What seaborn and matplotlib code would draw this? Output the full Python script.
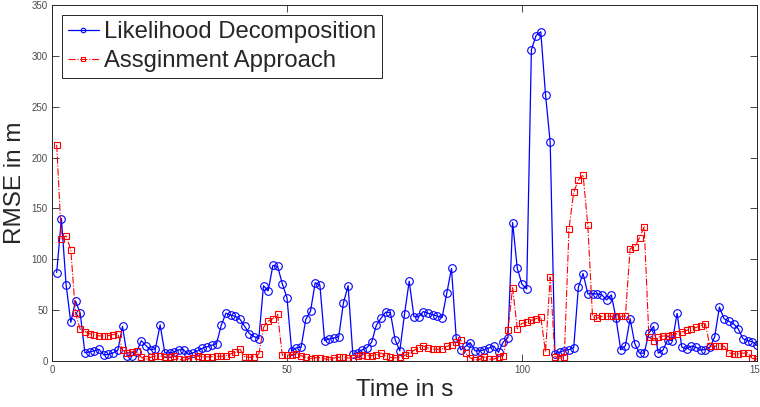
import numpy as np
import pandas as pd
import matplotlib
matplotlib.use("Agg")
import matplotlib.pyplot as plt
import seaborn as sns

time_s = list(range(1, 151))

likelihood = [
    87, 140, 75, 38, 59, 47, 8, 9, 10, 11.5,
    6, 6.5, 8, 10.5, 34, 5, 5, 9, 20, 15,
    11, 12, 35.5, 8, 8, 9, 11, 11, 6.5, 8,
    10, 12.5, 14, 15.4, 17, 35, 47, 45, 44, 41,
    34, 27, 24, 22, 74, 69, 94, 93, 76, 62,
    9.5, 13, 13.5, 41, 49, 77, 74.5, 20, 21.7, 22.7,
    23.6, 57, 74, 6.6, 8.2, 11, 13, 18.4, 35, 42,
    48, 47.6, 21, 10, 46, 78.5, 43.7, 43.3, 48.6, 47,
    45.6, 44.3, 42.7, 67, 91, 22.7, 11, 14.4, 18, 10,
    10, 11, 12.8, 14.7, 8.5, 18.6, 22.8, 136, 91, 75.4,
    70.8, 306, 320, 323.6, 262, 215, 6.7, 8.7, 10.3, 11.3,
    13, 72.7, 86, 66, 66, 66, 65, 60, 65, 42,
    11, 15, 41.6, 17, 7.7, 7.7, 27.4, 34, 7.7, 10.7,
    21, 20, 46.8, 13.6, 12, 14.6, 13.6, 10.7, 11.3, 13.6,
    23.8, 53, 41.5, 39, 36.6, 31.7, 22, 20, 19, 15.3,
]

assignment = [
    212.5, 120, 123, 109.5, 47, 31, 29, 27, 25.6, 24.7,
    24.7, 25, 26, 27, 11, 7.5, 9, 9.5, 3.6, 1.6,
    3.6, 5, 5, 4, 4, 5, 1.6, 0.7, 2, 3,
    5, 4, 4, 4.3, 4.6, 4.6, 5.3, 7, 8.5, 11.5,
    4.3, 3.6, 4.3, 6.6, 33, 39, 41.7, 46, 5.6, 5.6,
    6.2, 7.2, 5.3, 3.6, 2.3, 3.3, 3.3, 2.3, 1, 3,
    3.6, 3.6, 3, 3, 4.6, 6.2, 5, 5.3, 6.2, 7.9,
    5, 3.6, 3, 3.6, 5.6, 7.5, 10.5, 13, 14.8, 12.8,
    11.8, 11.5, 11.8, 14.4, 16, 18.4, 20.4, 7.5, 3, 1,
    1.6, 4, 1.8, 1.8, 4, 5, 30.7, 72, 31.7, 37,
    38, 40, 41.6, 43.5, 8.7, 82.6, 4.4, 2.8, 3.8, 130,
    166, 178, 183, 133.5, 44, 42, 44, 44, 44, 44,
    44, 44, 110.5, 112.5, 121, 132, 23.5, 20, 23.5, 24.5,
    25, 25.8, 26.8, 28.4, 30, 31.7, 33, 34.6, 36.6, 14.6,
    14.6, 14.6, 14.6, 8, 7, 7, 7.7, 8, 2.5, 1.8,
]

series_names = ["Likelihood Decomposition", "Assginment Approach"]
x_ticks = [0, 50, 100, 150]
y_ticks = [0, 50, 100, 150, 200, 250, 300, 350]

sns.set_style("white")
plt.rcParams["font.family"] = ["Liberation Sans", "DejaVu Sans"]

fig = plt.figure(figsize=(7.6, 4.07), dpi=100)
ax = fig.add_axes([52 / 760, 46 / 407, 705 / 760, 356 / 407])

sns.lineplot(x=time_s, y=likelihood, ax=ax, color="#0000ff", linewidth=0.9,
             marker="o", markersize=5.5, markerfacecolor="none",
             markeredgecolor="#0000ff", markeredgewidth=0.8,
             label=series_names[0])
sns.lineplot(x=time_s, y=assignment, ax=ax, color="#ff0000", linewidth=0.8,
             linestyle="-.", marker="s", markersize=4.5, markerfacecolor="none",
             markeredgecolor="#ff0000", markeredgewidth=0.8,
             label=series_names[1])

ax.set_xlim(0, 150)
ax.set_ylim(0, 350)
ax.set_xticks(x_ticks)
ax.set_yticks(y_ticks)
ax.tick_params(direction="in", length=5, width=0.6, colors="#262626",
               labelcolor="#4d4d4d", labelsize=7, top=True, right=True,
               bottom=True, left=True, pad=3)
for sp in ax.spines.values():
    sp.set_visible(True)
    sp.set_color("#262626")
    sp.set_linewidth(0.7)

ax.set_xlabel("Time in s", fontsize=17.5, color="#262626", labelpad=3)
ax.set_ylabel("RMSE in m", fontsize=17.5, color="#262626", labelpad=4)

leg = ax.legend(loc="upper left", bbox_to_anchor=(0.014, 0.972),
                borderaxespad=0, fontsize=17.2, frameon=True, fancybox=False,
                framealpha=1, edgecolor="#262626", handlelength=1.3,
                handletextpad=0.2, borderpad=0.25, labelspacing=0.3,
                markerscale=0.6)
leg.get_frame().set_linewidth(0.7)

fig.savefig("out.png", dpi=100)
